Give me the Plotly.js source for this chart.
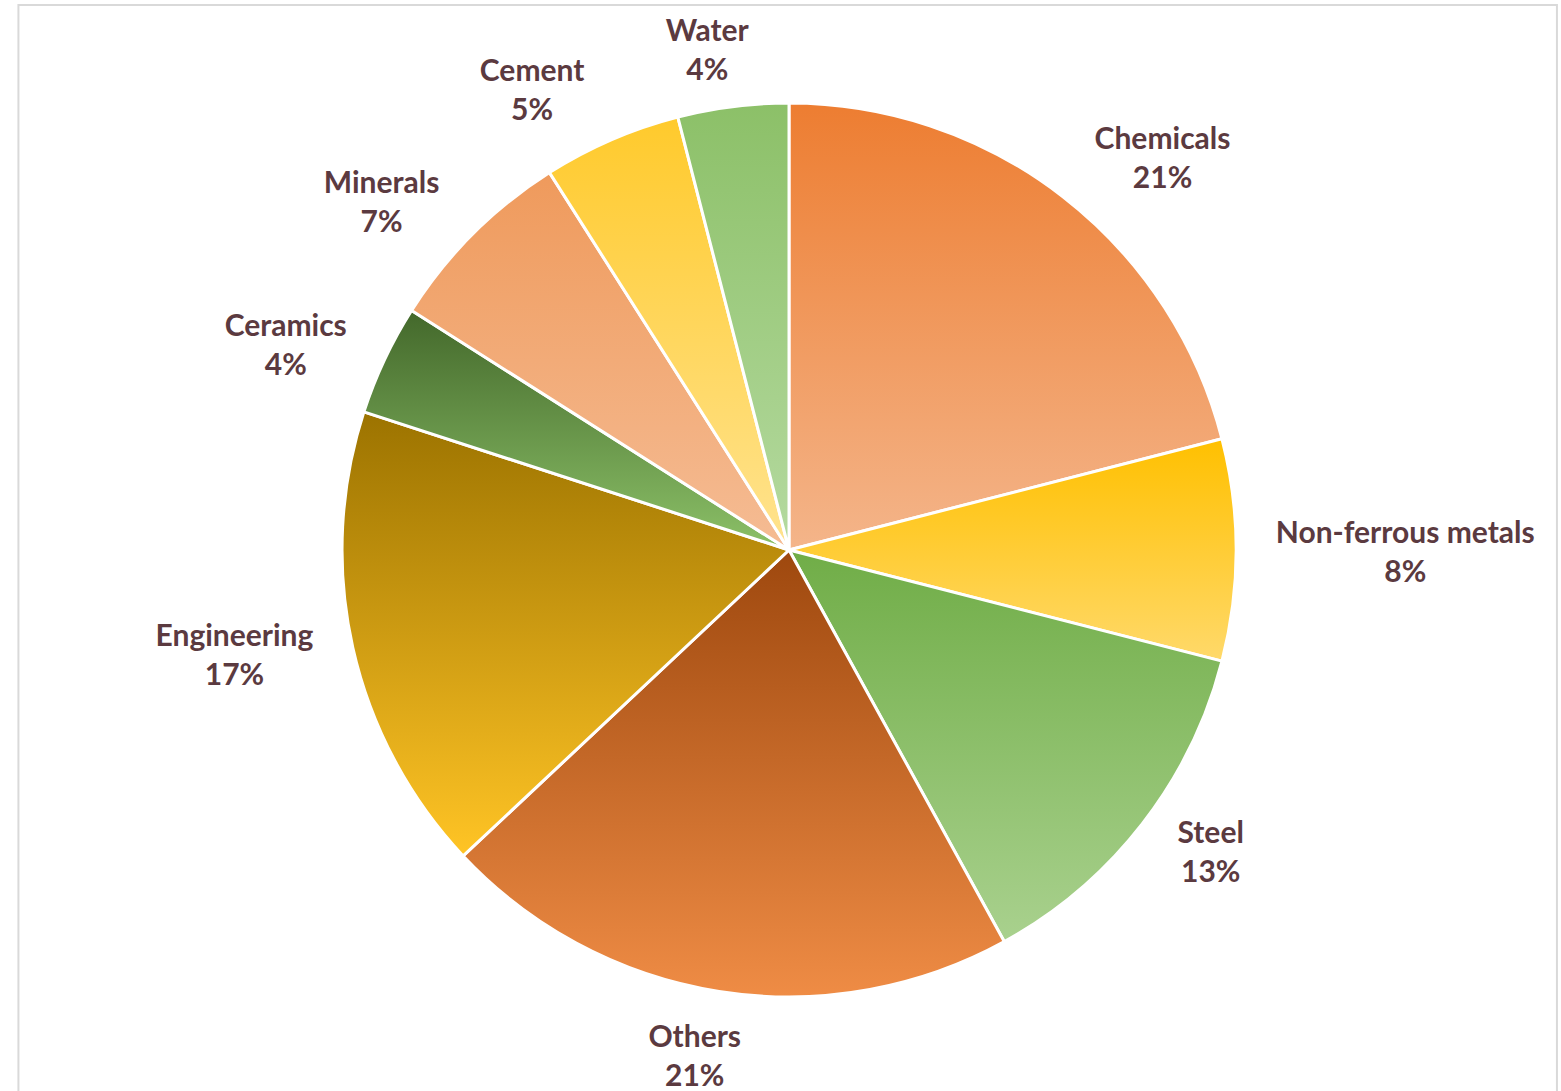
<!DOCTYPE html>
<html>
<head>
<meta charset="utf-8">
<script src="https://cdn.plot.ly/plotly-3.0.1.min.js"></script>
<style>
  html, body { margin: 0; padding: 0; background: #ffffff; }
  #chart { width: 1561px; height: 1091px; }
  .textline { display: none; }
</style>
</head>
<body>
<div id="chart"></div>
<script>
// Data (clockwise from 12 o'clock)
const sectors = ["Chemicals", "Non-ferrous metals", "Steel", "Others", "Engineering", "Ceramics", "Minerals", "Cement", "Water"];
const shares = [21, 8, 13, 21, 17, 4, 7, 5, 4];

// Gradient colours per slice (top -> bottom)
const topColors = ["#ED7D31", "#FFC000", "#70AD47", "#9E480E", "#9C7300", "#43682B", "#EF9A5C", "#FFCA2C", "#8CC068"];
const bottomColors = ["#F4B58A", "#FFD96A", "#A9D18E", "#EF8C45", "#FFC425", "#8CC168", "#F5BC94", "#FFE38F", "#B5DAA0"];
// Mid colours used as solid fallback
const midColors = ["#F09A5E", "#FECD45", "#8DBF6A", "#C8642A", "#CE9E14", "#65913F", "#F2AC7A", "#FFD75E", "#A1CD84"];

const labelFont = { family: "Lato, 'Open Sans', sans-serif", size: 30, color: "#5B3A40", weight: "bold" };
const clear = sectors.map(function () { return "rgba(0,0,0,0)"; });

// Visible pie (no text)
const pieTrace = {
  type: "pie",
  labels: sectors,
  values: shares,
  sort: false,
  direction: "clockwise",
  rotation: 0,
  textinfo: "none",
  marker: { colors: midColors, line: { color: "#FFFFFF", width: 3 } },
  domain: { x: [0.2191, 0.7918], y: [0.0862, 0.9056] },
  showlegend: false,
  hoverinfo: "label+percent"
};

// Transparent, slightly larger pies that only carry the outside data labels
function labelPie(showFn, dx, dy) {
  return {
    type: "pie",
    labels: sectors,
    values: shares,
    sort: false,
    direction: "clockwise",
    rotation: 0,
    textinfo: "label+percent",
    textposition: sectors.map(function (s) { return showFn(s) ? "outside" : "none"; }),
    texttemplate: "%{label}<br>%{percent:.0%}",
    outsidetextfont: labelFont,
    marker: { colors: clear, line: { width: 0 } },
    domain: { x: [0.2056 + dx, 0.8053 + dx], y: [0.0669 + dy, 0.9248 + dy] },
    showlegend: false,
    hoverinfo: "skip"
  };
}
const labelTraceMain = labelPie(function (s) { return s !== "Water" && s !== "Others"; }, 0, 0);
const labelTraceWater = labelPie(function (s) { return s === "Water"; }, 0.0243, 0);
const labelTraceOthers = labelPie(function (s) { return s === "Others"; }, 0.0282, -0.0055);

const layout = {
  width: 1561,
  height: 1091,
  margin: { l: 0, r: 0, t: 0, b: 0 },
  paper_bgcolor: "#FFFFFF",
  showlegend: false,
  shapes: [{
    type: "rect", xref: "paper", yref: "paper",
    x0: 0.0118, x1: 0.9974, y0: -0.02, y1: 0.9954,
    line: { color: "#D9D9D9", width: 2 }, fillcolor: "rgba(0,0,0,0)", layer: "below"
  }]
};

Plotly.newPlot("chart", [pieTrace, labelTraceMain, labelTraceWater, labelTraceOthers], layout, { displayModeBar: false, staticPlot: true }).then(function (gd) {
  const svg = gd.querySelector(".main-svg");
  const ns = "http://www.w3.org/2000/svg";
  let defs = svg.querySelector("defs");
  if (!defs) { defs = document.createElementNS(ns, "defs"); svg.insertBefore(defs, svg.firstChild); }
  topColors.forEach(function (c, i) {
    const g = document.createElementNS(ns, "linearGradient");
    g.setAttribute("id", "sliceGrad" + i);
    g.setAttribute("x1", "0"); g.setAttribute("y1", "0");
    g.setAttribute("x2", "0"); g.setAttribute("y2", "1");
    const s1 = document.createElementNS(ns, "stop");
    s1.setAttribute("offset", "0"); s1.setAttribute("stop-color", c);
    const s2 = document.createElementNS(ns, "stop");
    s2.setAttribute("offset", "1"); s2.setAttribute("stop-color", bottomColors[i]);
    g.appendChild(s1); g.appendChild(s2);
    defs.appendChild(g);
  });
  const firstPie = gd.querySelector(".pielayer .trace");
  if (firstPie) {
    firstPie.querySelectorAll(".slice").forEach(function (sl) {
      const d = sl.__data__;
      const idx = d && d.i !== undefined ? d.i : null;
      const path = sl.querySelector("path.surface");
      if (path && idx !== null) path.style.fill = "url(#sliceGrad" + idx + ")";
    });
  }
});
</script>
</body>
</html>
